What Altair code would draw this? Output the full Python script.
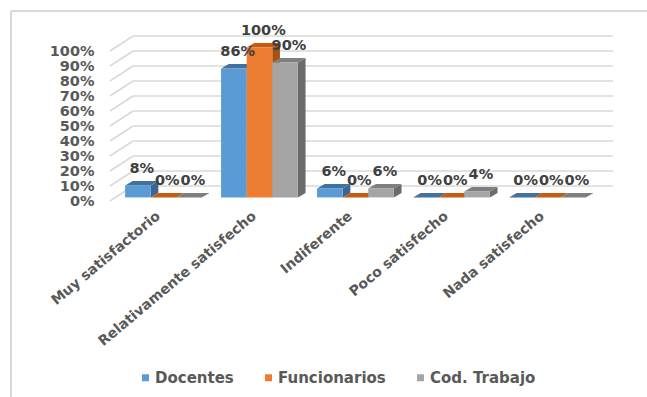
import json

import altair as alt
import pandas as pd

# ---- data -------------------------------------------------------------
categories = [
    "Muy satisfactorio",
    "Relativamente satisfecho",
    "Indiferente",
    "Poco satisfecho",
    "Nada satisfecho",
]
series = ["Docentes", "Funcionarios", "Cod. Trabajo"]
docentes = [8, 86, 6, 0, 0]
funcionarios = [0, 100, 0, 0, 0]
cod_trabajo = [0, 90, 6, 4, 0]
y_ticks = [0, 10, 20, 30, 40, 50, 60, 70, 80, 90, 100]

# ---- styling ----------------------------------------------------------
front_colors = ["#5B9BD5", "#ED7D31", "#A5A5A5"]
top_colors = ["#41719C", "#C55A11", "#7F7F7F"]
side_colors = ["#3A6791", "#A9500F", "#6B6B6B"]
FONT = "DejaVu Sans"
LABEL_GREY = "#595959"

# pseudo-3D geometry, in data units (x: category slots, y: percent)
GROUP_W = 0.8
BAR_W = GROUP_W / 3
SET_DX, SET_DY = 0.057, 2.4      # how far the bars sit behind the front plane
DEPTH_DX, DEPTH_DY = 0.08, 3.0   # bar depth
WALL_DX, WALL_DY = 0.24, 10.0    # depth of the back wall

values = [docentes, funcionarios, cod_trabajo]

fronts, faces, grid = [], [], []
for i, cat in enumerate(categories):
    for j, name in enumerate(series):
        v = values[j][i]
        x0 = i + 0.5 - GROUP_W / 2 + j * BAR_W + SET_DX
        x1 = x0 + BAR_W
        yb, yt = SET_DY, v + SET_DY
        fronts.append(dict(series=name, x=x0, x2=x1, y=yb, y2=yt,
                           lx=(x0 + x1) / 2 + DEPTH_DX / 2, ly=yt,
                           label=f"{v}%"))
        side_id, top_id = f"{i}_{j}_a", f"{i}_{j}_b"
        for px, lo, hi in [(x1, yb, yt), (x1 + DEPTH_DX, yb + DEPTH_DY, yt + DEPTH_DY)]:
            faces.append(dict(face=side_id, shade=side_colors[j], x=px, y=lo, y2=hi))
        for px, lo, hi in [
            (x0, yt, yt),
            (x0 + DEPTH_DX, yt, yt + DEPTH_DY),
            (x1, yt, yt + DEPTH_DY),
            (x1 + DEPTH_DX, yt + DEPTH_DY, yt + DEPTH_DY),
        ]:
            faces.append(dict(face=top_id, shade=top_colors[j], x=px, y=lo, y2=hi))

for t in y_ticks:
    grid.append(dict(x=0, x2=WALL_DX, y=t, y2=t + WALL_DY))
    grid.append(dict(x=WALL_DX, x2=len(categories) + WALL_DX, y=t + WALL_DY, y2=t + WALL_DY))

fronts_df = pd.DataFrame(fronts)
faces_df = pd.DataFrame(faces)
grid_df = pd.DataFrame(grid)

x_scale = alt.Scale(domain=[0, len(categories) + WALL_DX], nice=False, zero=False)
y_scale = alt.Scale(domain=[0, 100 + WALL_DY], nice=False, zero=False)

x_axis = alt.Axis(
    values=[i + 0.5 for i in range(len(categories))],
    labelExpr=f"{json.dumps(categories)}[floor(datum.value)]",
    labelAngle=-40, labelAlign="right", labelBaseline="middle",
    labelPadding=13, labelFont=FONT, labelFontSize=14, labelFontWeight="bold",
    labelColor=LABEL_GREY, labelLimit=400, labelOverlap=False,
    ticks=False, domain=False, grid=False, title=None,
)
y_axis = alt.Axis(
    values=y_ticks, labelExpr="datum.value + '%'",
    labelPadding=16, labelFont=FONT, labelFontSize=14.5, labelFontWeight="bold",
    labelColor=LABEL_GREY, ticks=False, domain=False, grid=False, title=None,
)

X = alt.X("x:Q", scale=x_scale, axis=x_axis)
Y = alt.Y("y:Q", scale=y_scale, axis=y_axis)

gridlines = alt.Chart(grid_df).mark_rule(color="#D9D9D9", strokeWidth=1.6).encode(
    x=X, x2="x2:Q", y=Y, y2="y2:Q"
)

shaded = alt.Chart(faces_df).mark_area(orient="vertical").encode(
    x=X, y=Y, y2="y2:Q",
    detail="face:N",
    color=alt.Color("shade:N", scale=None),
)

bars = alt.Chart(fronts_df).mark_rect().encode(
    x=X, x2="x2:Q", y=Y, y2="y2:Q",
    color=alt.Color(
        "series:N",
        scale=alt.Scale(domain=series, range=front_colors),
        legend=alt.Legend(
            title=None, orient="none", legendX=28, legendY=334,
            direction="horizontal", symbolType="square", symbolSize=49,
            symbolStrokeWidth=0, labelFont=FONT, labelFontSize=15,
            labelFontWeight="bold", labelColor=LABEL_GREY,
            columnPadding=27, labelOffset=2, padding=0,
        ),
    ),
)

labels = alt.Chart(fronts_df).mark_text(
    font=FONT, fontSize=14.5, fontWeight="bold", color="#404040",
    baseline="middle", align="center", dy=-16,
).encode(
    x=alt.X("lx:Q", scale=x_scale, axis=x_axis),
    y=alt.Y("ly:Q", scale=y_scale, axis=y_axis),
    text="label:N",
)

# light frame around the chart area
frame_top = alt.Chart(grid_df).mark_rule(color="#D9D9D9", strokeWidth=2).encode(
    x=alt.value(-99), x2=alt.value(540), y=alt.value(-25)
)
frame_left = alt.Chart(grid_df).mark_rule(color="#D9D9D9", strokeWidth=2).encode(
    x=alt.value(-99), y=alt.value(-25), y2=alt.value(365)
)

chart = (
    alt.layer(frame_top, frame_left, gridlines, shaded, bars, labels)
    .resolve_scale(color="independent")
    .properties(
        width=503, height=165,
        autosize=alt.AutoSizeParams(type="none"),
        padding={"left": 110, "top": 36, "right": 34, "bottom": 196},
        background="white",
    )
    .configure_view(stroke=None)
)

chart.save("out.html", embed_options={"renderer": "svg", "actions": False})
